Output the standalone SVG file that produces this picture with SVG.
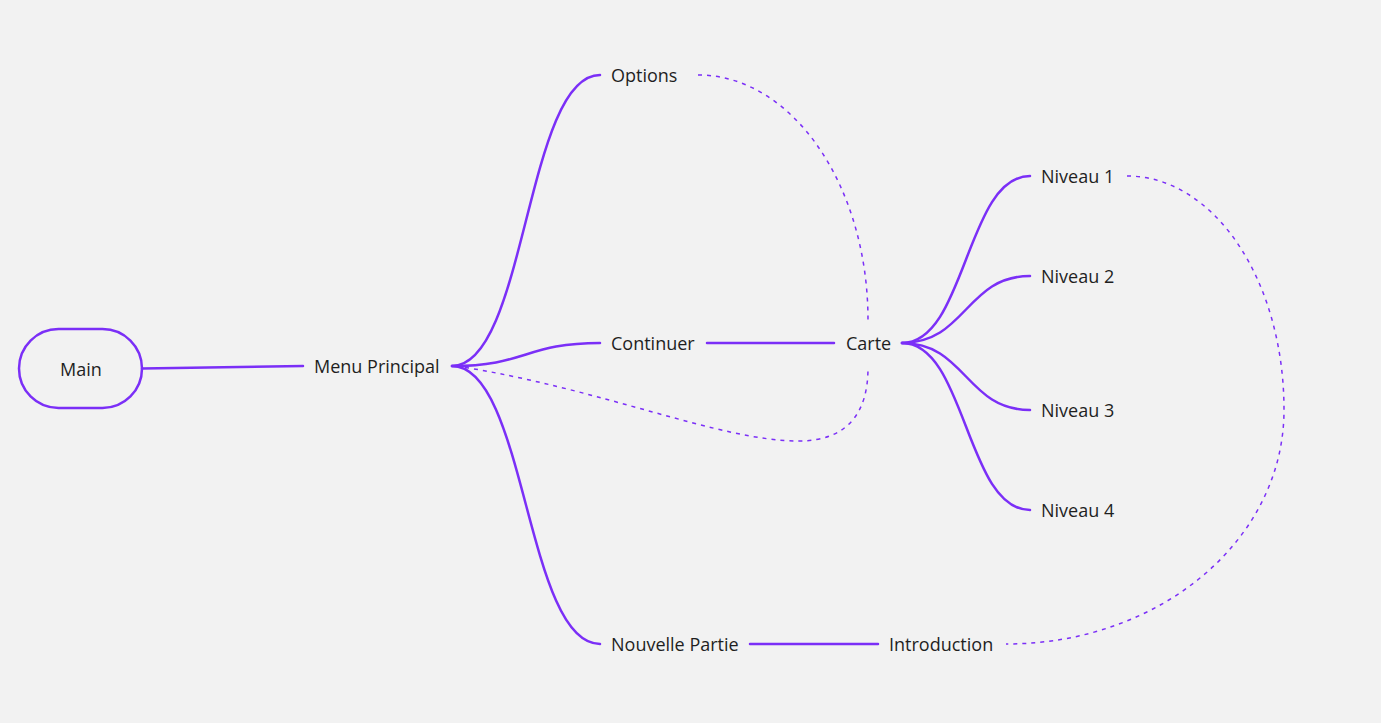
<svg xmlns="http://www.w3.org/2000/svg" width="1381" height="723" viewBox="0 0 1381 723">
<style>
.t{font-family:"Open Sans","Liberation Sans",sans-serif;font-size:18px;fill:#1f1f1f;dominant-baseline:central}
.s{fill:none;stroke:#7b2ff7;stroke-width:2.5;stroke-linecap:round}
.d{fill:none;stroke:#7b2ff7;stroke-width:1.5;stroke-dasharray:4 5}
</style>
<rect width="1381" height="723" fill="#f2f2f2"/>
<g id="connectors">
<path class="s" d="M142,368.5 L303,366"/>
<path class="s" d="M452,366 C526,366 526,75 600,75"/>
<path class="s" d="M452,366 C526,366 526,343 600,343"/>
<path class="s" d="M452,366 C526,366 526,644 600,644"/>
<path class="s" d="M707,343 L834,343"/>
<path class="s" d="M902,343 C966,343 966,176 1030,176"/>
<path class="s" d="M902,343 C966,343 966,276 1030,276"/>
<path class="s" d="M902,343 C966,343 966,410 1030,410"/>
<path class="s" d="M902,343 C966,343 966,510 1030,510"/>
<path class="s" d="M750,644 L878,644"/>
<path class="d" d="M698,75 C792,75 868,185 868,320"/>
<path class="d" d="M456,366 C600,388 720,441 798,441 C850,441 868,410 868,368"/>
<path class="d" d="M1127,176 C1214,176 1284,280 1284,410 C1284,540 1160,644 1006,644"/>
</g>
<g id="main"><rect x="19" y="329" width="123" height="79" rx="39.5" fill="none" stroke="#7b2ff7" stroke-width="2.5"/><text class="t" x="81" y="369" text-anchor="middle">Main</text></g>
<g id="menu"><text class="t" x="314" y="366">Menu Principal</text></g>
<g id="options"><text class="t" x="611" y="75">Options</text></g>
<g id="continuer"><text class="t" x="611" y="343">Continuer</text></g>
<g id="nouvelle"><text class="t" x="611" y="644">Nouvelle Partie</text></g>
<g id="carte"><text class="t" x="846" y="343">Carte</text></g>
<g id="introduction"><text class="t" x="889" y="644">Introduction</text></g>
<g id="niveau1"><text class="t" x="1041" y="176">Niveau 1</text></g>
<g id="niveau2"><text class="t" x="1041" y="276">Niveau 2</text></g>
<g id="niveau3"><text class="t" x="1041" y="410">Niveau 3</text></g>
<g id="niveau4"><text class="t" x="1041" y="510">Niveau 4</text></g>
</svg>
